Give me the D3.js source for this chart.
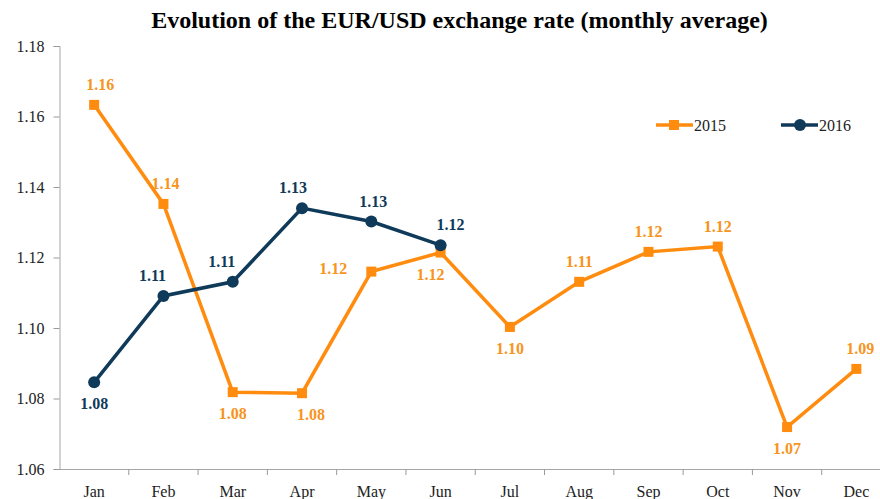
<!DOCTYPE html>
<html>
<head lang="en">
    <meta charset="UTF-8">
    <title>EUR/USD</title>
    <script src="https://cdn.jsdelivr.net/npm/d3@7/dist/d3.min.js" charset="utf-8"></script>
    <style>
        body { margin: 0; background: #fff; }
        svg { display: block; }
    </style>
</head>
<body>
    <script>
        var months = ["Jan", "Feb", "Mar", "Apr", "May", "Jun", "Jul", "Aug", "Sep", "Oct", "Nov", "Dec"];
        var rate2015 = [1.1633, 1.1352, 1.0818, 1.0815, 1.1160, 1.1214, 1.1003, 1.1131, 1.1216, 1.1231, 1.0719, 1.0884];
        var rate2016 = [1.0846, 1.1091, 1.1131, 1.1340, 1.1302, 1.1235];
        var yTicks = [1.06, 1.08, 1.10, 1.12, 1.14, 1.16, 1.18];
        // where Excel put each data label
        var place2015 = ["up", "up", "down", "down", "left", "down", "down", "up", "up", "up", "down", "up"];
        var place2016 = ["down", "up", "up", "up", "up", "up"];

        var w = 880, h = 499;
        var orange = "#ff8c0f", navy = "#0f3a5a";
        var serif = "'Liberation Serif', 'Times New Roman', serif";

        var svg = d3.select("body").append("svg")
                .attr("width", w)
                .attr("height", h);

        var x = d3.scaleBand().domain(months).range([59.5, 891]);
        var y = d3.scaleLinear().domain([1.06, 1.18]).range([469, 46]);

        svg.append("text")
                .attr("x", 459.5)
                .attr("y", 28)
                .attr("text-anchor", "middle")
                .attr("font-family", serif)
                .attr("font-weight", "bold")
                .attr("font-size", 24)
                .attr("fill", "#000")
                .text("Evolution of the EUR/USD exchange rate (monthly average)");

        // y axis
        var yAxis = svg.append("g")
                .attr("transform", "translate(59.5,0)")
                .call(d3.axisLeft(y).tickValues(yTicks).tickFormat(d3.format(".2f")).tickSizeOuter(0).tickSize(6).tickPadding(9));

        // x axis, ticks between months
        var xAxis = svg.append("g")
                .attr("transform", "translate(0,469)")
                .call(d3.axisBottom(x).tickSize(0).tickPadding(17));
        xAxis.selectAll(".tick")
                .append("line")
                .attr("x1", x.bandwidth() / 2)
                .attr("x2", x.bandwidth() / 2)
                .attr("y2", 6)
                .attr("stroke", "#999");

        svg.selectAll(".domain").attr("stroke", "#a6a6a6");
        yAxis.selectAll(".tick line").attr("stroke", "#999");
        svg.selectAll(".tick text")
                .attr("font-family", serif)
                .attr("font-size", 16)
                .attr("fill", "#222");

        var cx = function (d, i) { return x(months[i]) + x.bandwidth() / 2; };
        var line = d3.line()
                .x(function (d, i) { return cx(d, i); })
                .y(function (d) { return y(d); });

        svg.append("path")
                .datum(rate2015)
                .attr("d", line)
                .attr("fill", "none")
                .attr("stroke", orange)
                .attr("stroke-width", 3.5);

        svg.append("path")
                .datum(rate2016)
                .attr("d", line)
                .attr("fill", "none")
                .attr("stroke", navy)
                .attr("stroke-width", 3.5);

        svg.selectAll("rect.m15")
                .data(rate2015)
                .enter()
                .append("rect")
                .attr("class", "m15")
                .attr("x", function (d, i) { return cx(d, i) - 5; })
                .attr("y", function (d) { return y(d) - 5; })
                .attr("width", 10)
                .attr("height", 10)
                .attr("fill", orange);

        svg.selectAll("circle.m16")
                .data(rate2016)
                .enter()
                .append("circle")
                .attr("class", "m16")
                .attr("cx", cx)
                .attr("cy", function (d) { return y(d); })
                .attr("r", 6)
                .attr("fill", navy);

        function labelPos(p, px, py) {
            if (p === "up") return [px, py - 15];
            if (p === "down") return [px, py + 27];
            return [px - 38, py - 3 + 5];
        }

        function addLabels(data, places, color, nudge) {
            svg.selectAll(null)
                    .data(data)
                    .enter()
                    .append("text")
                    .attr("x", function (d, i) { return labelPos(places[i], cx(d, i), y(d))[0] + (nudge[i] || 0); })
                    .attr("y", function (d, i) { return labelPos(places[i], cx(d, i), y(d))[1]; })
                    .attr("text-anchor", "middle")
                    .attr("font-family", serif)
                    .attr("font-weight", "bold")
                    .attr("font-size", 16)
                    .attr("fill", color)
                    .text(function (d) { return d3.format(".2f")(d); });
        }

        addLabels(rate2015, place2015, "#f7941d", [6, 2, 0, 9, 0, -10, 0, 0, 0, 0, 0, 4]);
        addLabels(rate2016, place2016, navy, [0, -11, -11, -9, 2, 10]);

        // legend
        var legend = [
            { name: "2015", color: orange, shape: "square", x: 656 },
            { name: "2016", color: navy, shape: "circle", x: 781 }
        ];
        var lg = svg.selectAll("g.legend")
                .data(legend)
                .enter()
                .append("g")
                .attr("class", "legend")
                .attr("transform", function (d) { return "translate(" + d.x + ",125)"; });
        lg.append("line")
                .attr("x1", 0).attr("x2", 37)
                .attr("stroke", function (d) { return d.color; })
                .attr("stroke-width", 3.5);
        lg.filter(function (d) { return d.shape === "square"; })
                .append("rect")
                .attr("x", 13).attr("y", -5).attr("width", 10).attr("height", 10)
                .attr("fill", function (d) { return d.color; });
        lg.filter(function (d) { return d.shape === "circle"; })
                .append("circle")
                .attr("cx", 19).attr("r", 6)
                .attr("fill", function (d) { return d.color; });
        lg.append("text")
                .attr("x", 38)
                .attr("y", 6)
                .attr("font-family", serif)
                .attr("font-size", 16)
                .attr("fill", "#222")
                .text(function (d) { return d.name; });
    </script>
</body>
</html>
